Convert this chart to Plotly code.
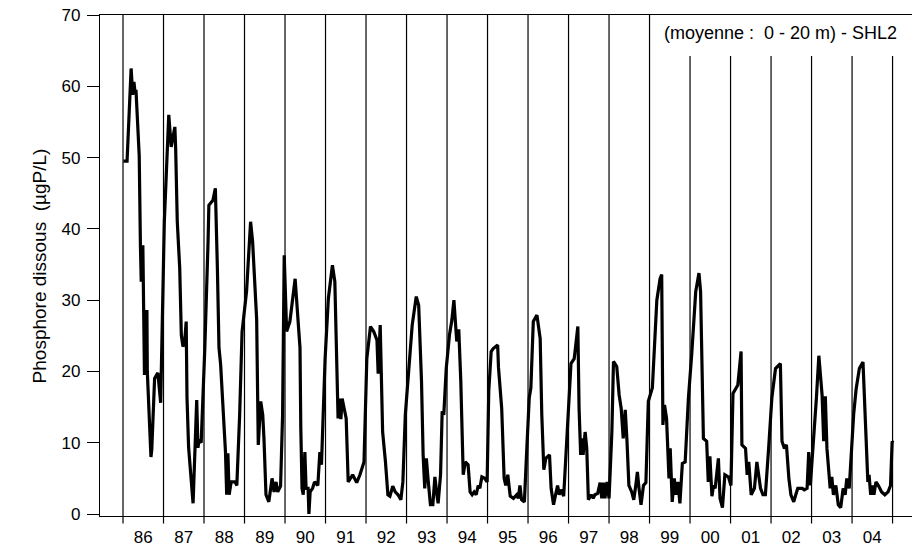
import plotly.graph_objects as go

# ---- data (decimal years, µgP/L) ----
dates = [
    1986.01, 1986.10, 1986.20, 1986.24, 1986.27, 1986.30, 1986.32, 1986.40, 1986.43, 1986.45,
    1986.49, 1986.53, 1986.59, 1986.60, 1986.69, 1986.71, 1986.78, 1986.86, 1986.93, 1987.02,
    1987.13, 1987.19, 1987.28, 1987.30, 1987.34, 1987.40, 1987.44, 1987.48, 1987.52, 1987.56,
    1987.58, 1987.62, 1987.73, 1987.82, 1987.85, 1987.88, 1987.93, 1988.02, 1988.10, 1988.12,
    1988.22, 1988.28, 1988.33, 1988.37, 1988.41, 1988.47, 1988.53, 1988.56, 1988.59, 1988.62,
    1988.67, 1988.77, 1988.81, 1988.88, 1988.94, 1989.05, 1989.15, 1989.20, 1989.26, 1989.30,
    1989.34, 1989.40, 1989.45, 1989.48, 1989.53, 1989.60, 1989.68, 1989.73, 1989.78, 1989.82,
    1989.89, 1989.94, 1989.98, 1990.04, 1990.12, 1990.25, 1990.33, 1990.37, 1990.39, 1990.42,
    1990.45, 1990.49, 1990.52, 1990.57, 1990.59, 1990.62, 1990.68, 1990.73, 1990.81, 1990.86,
    1990.90, 1990.99, 1991.07, 1991.17, 1991.23, 1991.28, 1991.31, 1991.34, 1991.38, 1991.41,
    1991.46, 1991.51, 1991.56, 1991.67, 1991.77, 1991.85, 1991.95, 1992.02, 1992.11, 1992.19,
    1992.27, 1992.30, 1992.35, 1992.41, 1992.48, 1992.54, 1992.59, 1992.66, 1992.72, 1992.79,
    1992.86, 1992.91, 1992.97, 1993.04, 1993.14, 1993.24, 1993.30, 1993.37, 1993.41, 1993.45,
    1993.49, 1993.53, 1993.59, 1993.65, 1993.70, 1993.75, 1993.78, 1993.84, 1993.88, 1993.92,
    1993.98, 1994.06, 1994.12, 1994.17, 1994.21, 1994.24, 1994.29, 1994.34, 1994.40, 1994.45,
    1994.52, 1994.57, 1994.62, 1994.67, 1994.72, 1994.77, 1994.81, 1994.86, 1994.93, 1994.99,
    1995.03, 1995.09, 1995.14, 1995.25, 1995.27, 1995.35, 1995.41, 1995.45, 1995.50, 1995.56,
    1995.64, 1995.72, 1995.76, 1995.80, 1995.84, 1995.91, 1995.97, 1996.03, 1996.07, 1996.13,
    1996.22, 1996.30, 1996.34, 1996.39, 1996.44, 1996.53, 1996.57, 1996.63, 1996.68, 1996.73,
    1996.77, 1996.81, 1996.88, 1996.96, 1997.06, 1997.14, 1997.18, 1997.23, 1997.26, 1997.30,
    1997.33, 1997.36, 1997.41, 1997.45, 1997.49, 1997.56, 1997.61, 1997.65, 1997.72, 1997.78,
    1997.82, 1997.86, 1997.90, 1997.95, 1998.00, 1998.07, 1998.11, 1998.19, 1998.25, 1998.30,
    1998.35, 1998.40, 1998.44, 1998.49, 1998.56, 1998.61, 1998.66, 1998.70, 1998.74, 1998.79,
    1998.85, 1998.91, 1998.97, 1999.07, 1999.18, 1999.26, 1999.30, 1999.33, 1999.37, 1999.42,
    1999.48, 1999.51, 1999.56, 1999.61, 1999.65, 1999.70, 1999.75, 1999.81, 1999.88, 1999.96,
    2000.04, 2000.14, 2000.22, 2000.26, 2000.33, 2000.41, 2000.45, 2000.49, 2000.54, 2000.58,
    2000.62, 2000.70, 2000.74, 2000.80, 2000.86, 2000.95, 2001.01, 2001.06, 2001.18, 2001.26,
    2001.28, 2001.37, 2001.41, 2001.45, 2001.51, 2001.59, 2001.65, 2001.74, 2001.80, 2001.86,
    2001.94, 2002.02, 2002.11, 2002.23, 2002.27, 2002.33, 2002.38, 2002.44, 2002.49, 2002.56,
    2002.61, 2002.66, 2002.77, 2002.82, 2002.89, 2002.93, 2002.97, 2003.05, 2003.12, 2003.18,
    2003.26, 2003.30, 2003.34, 2003.38, 2003.42, 2003.46, 2003.50, 2003.54, 2003.60, 2003.66,
    2003.72, 2003.78, 2003.83, 2003.87, 2003.93, 2003.97, 2004.04, 2004.10, 2004.18, 2004.27,
    2004.30, 2004.35, 2004.39, 2004.42, 2004.46, 2004.51, 2004.54, 2004.59, 2004.65, 2004.73,
    2004.81, 2004.89, 2004.95, 2004.99, 2005.01,
]
phosphore = [
    49.5, 49.5, 62.5, 58.8, 60.6, 59.0, 59.5, 50.3, 37.7, 32.6,
    37.7, 19.5, 28.6, 20.0, 8.0, 9.0, 19.0, 19.8, 15.6, 41.0,
    56.0, 51.5, 54.3, 51.3, 41.0, 34.5, 25.1, 23.5, 24.0, 27.0,
    16.3, 9.3, 1.5, 16.0, 9.3, 10.4, 10.0, 23.3, 38.2, 43.3,
    44.0, 45.7, 34.5, 23.3, 21.0, 13.9, 8.7, 2.7, 8.5, 2.7,
    4.5, 4.5, 4.0, 13.9, 25.6, 31.2, 41.0, 38.2, 32.6, 27.3,
    9.7, 15.8, 13.9, 10.6, 2.7, 1.7, 5.0, 3.1, 4.5, 3.1,
    3.9, 13.9, 36.3, 25.6, 27.0, 33.0, 26.5, 23.3, 12.0, 3.6,
    2.7, 8.7, 3.6, 3.6, 0.0, 3.1, 3.6, 4.5, 4.0, 8.7,
    6.9, 21.8, 30.2, 34.9, 32.6, 23.0, 13.4, 16.2, 13.3, 16.2,
    14.9, 13.4, 4.5, 5.5, 4.4, 5.5, 7.3, 21.8, 26.3, 25.6,
    24.4, 19.7, 26.5, 11.5, 7.3, 2.7, 2.5, 3.9, 3.1, 2.7,
    2.0, 4.5, 13.9, 19.5, 26.5, 30.5, 29.3, 18.6, 8.3, 3.6,
    7.8, 5.0, 1.3, 1.3, 5.2, 2.7, 1.5, 5.5, 14.4, 13.9,
    20.4, 25.1, 27.2, 30.0, 26.3, 24.2, 25.9, 18.6, 5.5, 7.3,
    6.9, 3.1, 2.7, 3.1, 2.7, 4.0, 3.6, 5.2, 5.0, 4.5,
    17.2, 22.8, 23.2, 23.7, 20.6, 14.8, 5.0, 4.0, 5.5, 2.5,
    2.2, 2.7, 2.2, 4.0, 2.0, 1.7, 9.2, 16.3, 17.7, 27.0,
    27.9, 24.6, 13.9, 6.2, 7.8, 8.3, 3.6, 1.3, 2.7, 4.0,
    2.7, 3.4, 2.5, 11.2, 21.1, 21.8, 24.0, 26.3, 14.8, 8.3,
    10.6, 8.3, 11.5, 9.2, 2.0, 2.7, 2.2, 2.7, 2.9, 4.4,
    2.2, 4.4, 2.2, 4.5, 2.2, 11.5, 21.4, 20.7, 16.7, 14.8,
    10.6, 14.6, 10.6, 4.0, 3.1, 2.0, 4.0, 5.9, 3.6, 1.3,
    4.0, 4.4, 15.8, 17.7, 30.0, 33.0, 33.6, 12.5, 15.3, 13.4,
    5.0, 9.2, 1.7, 5.0, 2.7, 4.5, 1.5, 7.1, 7.3, 16.3,
    22.3, 31.2, 33.8, 31.2, 10.6, 10.2, 4.5, 8.1, 2.5, 4.0,
    3.6, 7.8, 2.2, 0.9, 5.5, 5.2, 4.0, 16.9, 18.1, 22.8,
    9.7, 9.2, 5.5, 7.3, 2.7, 3.6, 7.3, 3.6, 2.7, 2.7,
    9.2, 16.3, 20.4, 21.1, 10.2, 9.2, 9.7, 5.0, 2.7, 1.7,
    2.7, 3.6, 3.6, 3.4, 3.6, 8.7, 4.0, 10.2, 16.3, 22.2,
    16.7, 10.2, 16.5, 9.2, 5.5, 3.6, 5.2, 2.7, 4.0, 1.3,
    0.9, 3.6, 2.7, 5.0, 3.6, 8.0, 14.0, 17.5, 20.4, 21.3,
    17.2, 9.2, 4.5, 5.5, 2.7, 4.0, 2.7, 4.5, 4.0, 3.1,
    2.7, 3.1, 4.0, 10.2, 10.0,
]

year_starts = list(range(1986, 2006))          # year boundary lines
year_labels = ["86", "87", "88", "89", "90", "91", "92", "93", "94", "95",
               "96", "97", "98", "99", "00", "01", "02", "03", "04"]
label_positions = [y + 0.5 for y in range(1986, 2005)]
y_ticks = [0, 10, 20, 30, 40, 50, 60, 70]

FONT = "Liberation Sans, Arial, sans-serif"
NB = "\u00a0"

fig = go.Figure()
fig.add_trace(go.Scatter(
    x=dates, y=phosphore, mode="lines",
    line=dict(color="black", width=3.2), showlegend=False, hoverinfo="skip",
))

# year separator lines (full height up to 1999, shorter below the note afterwards)
for yr in year_starts:
    top = 1.0 if yr <= 1999 else 0.918
    fig.add_shape(type="line", xref="x", yref="paper",
                  x0=yr, x1=yr, y0=-0.015, y1=top,
                  line=dict(color="black", width=1.2))

fig.add_annotation(
    text=f"(moyenne :{NB}{NB}0 - 20 m) - SHL2",
    xref="paper", yref="paper", x=0.9845, y=0.964, xanchor="right", yanchor="middle",
    showarrow=False, font=dict(family=FONT, size=18, color="black"),
)

# y-axis title placed explicitly
fig.add_annotation(
    text=f"Phosphore dissous{NB}{NB}(µgP/L)",
    xref="paper", yref="paper", x=-0.074, y=0.5, xanchor="center", yanchor="middle",
    textangle=-90, showarrow=False, font=dict(family=FONT, size=19, color="black"),
)

fig.update_layout(
    width=912, height=548,
    margin=dict(l=100, r=0, t=15, b=32),
    paper_bgcolor="white", plot_bgcolor="white",
    font=dict(family=FONT, color="black"),
    xaxis=dict(
        range=[1985.432, 2005.48],
        tickmode="array", tickvals=label_positions, ticktext=year_labels,
        ticks="outside", ticklen=5, tickcolor="rgba(0,0,0,0)",
        tickfont=dict(family=FONT, size=17, color="black"),
        showgrid=False, zeroline=False,
        showline=True, linecolor="black", linewidth=1.3, mirror=True,
    ),
    yaxis=dict(
        range=[-0.28, 70],
        tickmode="array", tickvals=y_ticks,
        ticks="outside", ticklen=12, tickwidth=1.3, tickcolor="black",
        ticklabelstandoff=3,
        tickfont=dict(family=FONT, size=17, color="black"),
        showgrid=False, zeroline=False,
        showline=True, linecolor="black", linewidth=1.3,
    ),
)

fig.write_html("out.html", config={"displayModeBar": False},
               post_script="document.body.style.margin='0';document.body.style.padding='0';")
